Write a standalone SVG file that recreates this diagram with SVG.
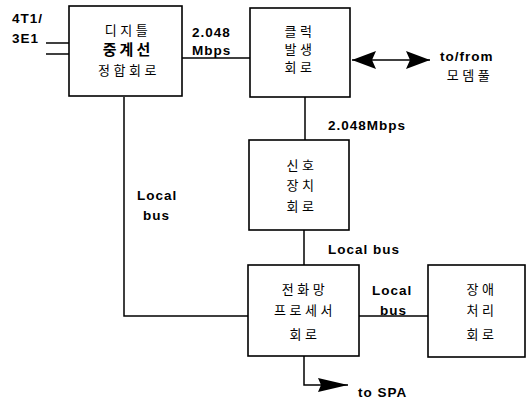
<svg xmlns="http://www.w3.org/2000/svg" width="529" height="403" viewBox="0 0 529 403">
<defs>
<style>
.box{fill:#fff;stroke:#000;stroke-width:1.6}
.ln{fill:none;stroke:#000;stroke-width:1.5}
.lat{font-family:"Liberation Sans",Arial,sans-serif;font-weight:bold;font-size:13.5px;letter-spacing:1px;fill:#000}
.ko{font-family:"Noto Sans CJK KR","Noto Sans",sans-serif;font-size:13px;letter-spacing:3.5px;fill:#000;text-anchor:middle}
.kob{font-family:"Noto Sans CJK KR","Noto Sans",sans-serif;font-size:15px;font-weight:bold;letter-spacing:3px;fill:#000;text-anchor:middle}
</style>
<marker id="bigArrow" markerUnits="userSpaceOnUse" viewBox="0 0 24 18" refX="24" refY="9" markerWidth="24" markerHeight="18" orient="auto-start-reverse">
<path d="M0,0 L24,9 L0,18 L4,9 Z" fill="#000"/>
</marker>
<marker id="spaArrow" markerUnits="userSpaceOnUse" viewBox="0 0 30 14" refX="30" refY="7" markerWidth="30" markerHeight="14" orient="auto">
<path d="M0,0 L30,7 L0,14 L3,7 Z" fill="#000"/>
</marker>
</defs>
<rect width="529" height="403" fill="#fff"/>

<g id="connectors">
<line class="ln" x1="46" y1="43" x2="69" y2="43" stroke-width="3"/>
<line class="ln" x1="46" y1="54" x2="69" y2="54" stroke-width="3"/>
<line class="ln" x1="182" y1="58" x2="250" y2="58"/>
<line class="ln" x1="352" y1="60" x2="430" y2="60" marker-start="url(#bigArrow)" marker-end="url(#bigArrow)"/>
<line class="ln" x1="305" y1="97" x2="305" y2="140"/>
<line class="ln" x1="304" y1="230" x2="304" y2="265"/>
<polyline class="ln" points="124,97 124,316 248,316"/>
<line class="ln" x1="359" y1="316" x2="428" y2="316"/>
<polyline class="ln" points="304,356 304,385 348,385" marker-end="url(#spaArrow)"/>
</g>

<g id="labels">
<text class="lat" x="12" y="23">4T1/</text>
<text class="lat" x="12" y="43">3E1</text>
<text class="lat" x="192" y="37">2.048</text>
<text class="lat" x="192" y="55">Mbps</text>
<text class="lat" x="440" y="61">to/from</text>
<text class="ko" x="470" y="80">모뎀풀</text>
<text class="lat" x="328" y="130">2.048Mbps</text>
<text class="lat" x="137" y="200">Local</text>
<text class="lat" x="143" y="220">bus</text>
<text class="lat" x="328" y="254">Local bus</text>
<text class="lat" x="372" y="295">Local</text>
<text class="lat" x="380" y="315">bus</text>
<text class="lat" x="358" y="397">to SPA</text>
</g>

<g id="node-digital">
<rect class="box" x="69" y="6" width="113" height="90"/>
<text class="ko" x="128" y="35">디지틀</text>
<text class="kob" x="128" y="55">중계선</text>
<text class="ko" x="129" y="75">정합회로</text>
</g>

<g id="node-clock">
<rect class="box" x="250" y="8" width="100" height="89"/>
<text class="ko" x="300" y="36">클럭</text>
<text class="ko" x="300" y="54">발생</text>
<text class="ko" x="300" y="72">회로</text>
</g>

<g id="node-signal">
<rect class="box" x="249" y="140" width="100" height="90"/>
<text class="ko" x="302" y="170">신호</text>
<text class="ko" x="302" y="190">장치</text>
<text class="ko" x="302" y="211">회로</text>
</g>

<g id="node-processor">
<rect class="box" x="248" y="265" width="111" height="91"/>
<text class="ko" x="305" y="294">전화망</text>
<text class="ko" x="305" y="315">프로세서</text>
<text class="ko" x="305" y="339">회로</text>
</g>

<g id="node-fault">
<rect class="box" x="428" y="265" width="97" height="92"/>
<text class="ko" x="482" y="294">장애</text>
<text class="ko" x="482" y="315">처리</text>
<text class="ko" x="482" y="339">회로</text>
</g>
</svg>
